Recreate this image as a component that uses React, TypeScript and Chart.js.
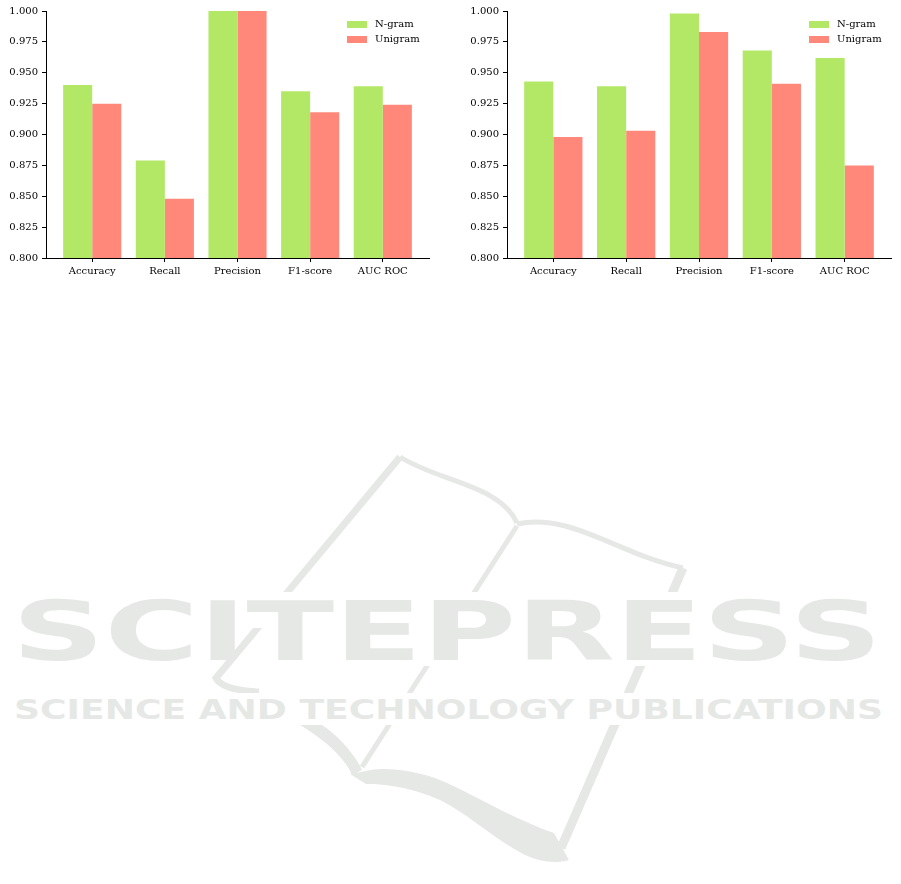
import React, { useEffect, useRef } from "react";
import { Chart, registerables } from "chart.js";

Chart.register(...registerables);

const categories = ["Accuracy", "Recall", "Precision", "F1-score", "AUC ROC"];
const seriesLabels = ["N-gram", "Unigram"];
const seriesColors = ["#b3e867", "#ff887a"];
const leftNgram = [0.94, 0.879, 1.0, 0.935, 0.939];
const leftUnigram = [0.925, 0.848, 1.0, 0.918, 0.924];
const rightNgram = [0.943, 0.939, 0.998, 0.968, 0.962];
const rightUnigram = [0.898, 0.903, 0.983, 0.941, 0.875];
const yTicks = [0.8, 0.825, 0.85, 0.875, 0.9, 0.925, 0.95, 0.975, 1.0];

const FONT = "'DejaVu Serif', serif";

const legendPlugin = {
  id: "mplLegend",
  afterDraw(chart: any) {
    const ctx = chart.ctx;
    const area = chart.chartArea;
    const x0 = area.right - 82;
    ctx.save();
    ctx.font = `10px ${FONT}`;
    ctx.textBaseline = "middle";
    ctx.textAlign = "left";
    chart.data.datasets.forEach((ds: any, i: number) => {
      const y = area.top + 10 + i * 15;
      ctx.fillStyle = ds.backgroundColor;
      ctx.fillRect(x0, y, 20, 7);
      ctx.fillStyle = "#000";
      ctx.fillText(ds.label, x0 + 28, y + 3.5);
    });
    ctx.restore();
  },
};

function BarPanel({ ngram, unigram, width, padRight }: { ngram: number[]; unigram: number[]; width: number; padRight: number }) {
  const ref = useRef<HTMLCanvasElement | null>(null);
  useEffect(() => {
    if (!ref.current) return;
    const series = [ngram, unigram];
    const chart = new Chart(ref.current, {
      type: "bar",
      data: {
        datasets: series.map((vals, s) => ({
          label: seriesLabels[s],
          data: categories.map((_, i) => ({ x: i, y: vals[i] })),
          backgroundColor: seriesColors[s],
          borderWidth: 0,
          categoryPercentage: 0.8,
          barPercentage: 1.0,
        })),
      },
      options: {
        animation: false,
        responsive: false,
        layout: { padding: { top: 11, right: padRight, bottom: 0, left: 0 } },
        plugins: { legend: { display: false }, tooltip: { enabled: false } },
        scales: {
          x: {
            type: "linear",
            offset: false,
            min: -0.636,
            max: categories.length - 1 + 0.636,
            afterBuildTicks: (scale: any) => {
              scale.ticks = categories.map((_, i) => ({ value: i }));
            },
            afterFit: (scale: any) => {
              scale.height = 32;
            },
            ticks: {
              autoSkip: false,
              maxRotation: 0,
              padding: 3,
              color: "#000",
              font: { family: FONT, size: 10 },
              callback: (v: any) => categories[Math.round(Number(v))] ?? "",
            },
            grid: { display: true, offset: false, drawOnChartArea: false, drawTicks: true, tickLength: 4, color: "#000", lineWidth: 1 },
            border: { display: true, color: "#000", width: 1 },
          },
          y: {
            type: "linear",
            min: 0.8,
            max: 1.0,
            afterBuildTicks: (scale: any) => {
              scale.ticks = yTicks.map((v) => ({ value: v }));
            },
            afterFit: (scale: any) => {
              scale.width = 46;
            },
            ticks: {
              padding: 4,
              color: "#000",
              font: { family: FONT, size: 10 },
              callback: (v: any) => Number(v).toFixed(3),
            },
            grid: { display: true, drawOnChartArea: false, drawTicks: true, tickLength: 4, color: "#000", lineWidth: 1 },
            border: { display: true, color: "#000", width: 1 },
          },
        },
      },
      plugins: [legendPlugin],
    } as any);
    return () => chart.destroy();
  }, [ngram, unigram, padRight]);
  return <canvas ref={ref} width={width} height={290} style={{ display: "block" }} />;
}

function Watermark() {
  const c = "#e6e8e6";
  return (
    <svg width={901} height={884} style={{ position: "absolute", left: 0, top: 0, pointerEvents: "none" }}>
      <defs>
        <clipPath id="gaps">
          <rect x={0} y={0} width={901} height={592} />
          <rect x={0} y={666} width={901} height={27} />
          <rect x={0} y={725} width={901} height={200} />
          <rect x={200} y={628} width={62} height={40} />
        </clipPath>
      </defs>
      <g clipPath="url(#gaps)" fill="none" stroke={c} strokeLinecap="butt">
        <path d="M400,457 L216,678 Q222,690 259,692" strokeWidth={7} />
        <path d="M400,457 C440,482 500,485 517,523" strokeWidth={5} />
        <path d="M517,524 C570,512 620,555 683,568" strokeWidth={5} />
        <path d="M683,568 L561,848" strokeWidth={9} />
        <path d="M517,526 L362,767" strokeWidth={5} />
        <path d="M300,725 L322,725 C340,737 355,755 362,770 L352,775 C345,758 325,740 300,725 Z" fill={c} stroke="none" />
        <path d="M350,774 L371,770 C390,767 420,772 440,780 C470,792 510,818 554,833 L569,860 C555,864 540,862 525,855 C495,840 470,815 440,800 C410,787 385,784 366,784 Z" fill={c} stroke="none" />
      </g>
      <text x={12} y={659.5} fill={c} fontFamily="'DejaVu Sans', sans-serif" fontWeight="bold" fontSize={82} textLength={870} lengthAdjust="spacingAndGlyphs">
        SCITEPRESS
      </text>
      <text x={14} y={718.5} fill={c} fontFamily="'DejaVu Sans', sans-serif" fontWeight="bold" fontSize={26} textLength={869} lengthAdjust="spacingAndGlyphs">
        SCIENCE AND TECHNOLOGY PUBLICATIONS
      </text>
    </svg>
  );
}

export default function App() {
  return (
    <div>
      <Watermark />
      <div style={{ position: "absolute", left: 0, top: 0, width: 450, height: 290 }}>
        <BarPanel ngram={leftNgram} unigram={leftUnigram} width={450} padRight={21} />
      </div>
      <div style={{ position: "absolute", left: 461, top: 0, width: 440, height: 290 }}>
        <BarPanel ngram={rightNgram} unigram={rightUnigram} width={440} padRight={10} />
      </div>
    </div>
  );
}
